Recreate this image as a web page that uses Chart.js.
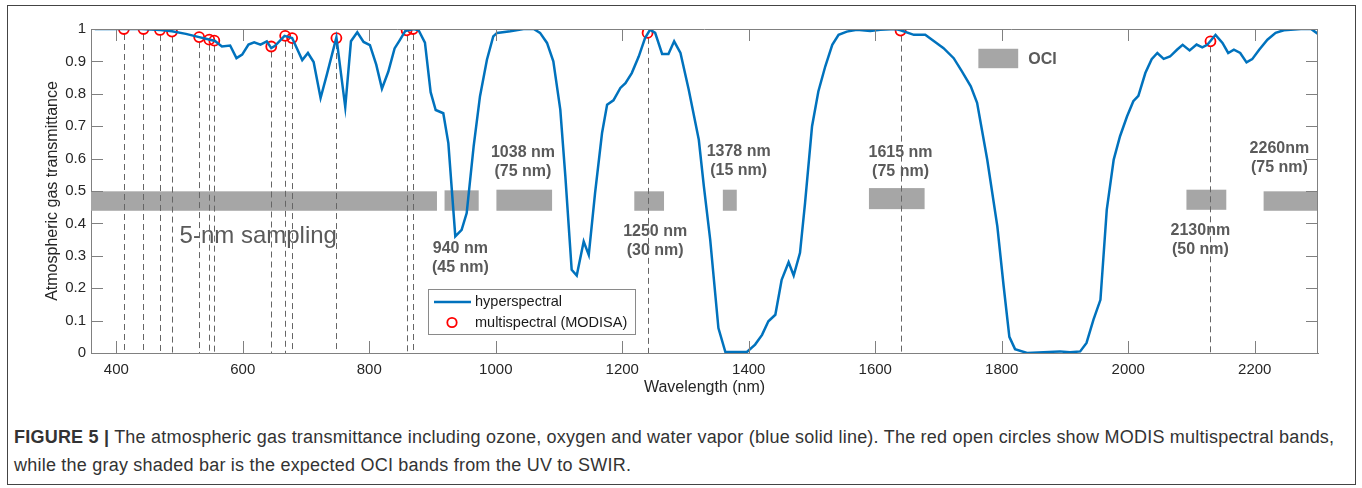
<!DOCTYPE html>
<html>
<head>
<meta charset="utf-8">
<script src="https://cdn.jsdelivr.net/npm/chart.js@4.4.1/dist/chart.umd.min.js"></script>
<style>
  html, body { margin: 0; padding: 0; background: #fff; }
  body { width: 1362px; height: 488px; position: relative; overflow: hidden; font-family: "Liberation Sans", Arial, sans-serif; }
  #frame { position: absolute; left: 7px; top: 5px; width: 1347px; height: 478px; border: 1px solid #444; }
  #wrap { position: absolute; left: 0; top: 0; width: 1362px; height: 400px; }
  #caption { position: absolute; left: 14px; top: 423px; width: 1345px; font-size: 18px; letter-spacing: 0.22px; line-height: 28px; color: #333; white-space: nowrap; }
</style>
</head>
<body>
<div id="frame"></div>
<div id="wrap"><canvas id="myChart" width="1362" height="400"></canvas></div>
<div id="caption"><b>FIGURE 5 |</b> The atmospheric gas transmittance including ozone, oxygen and water vapor (blue solid line). The red open circles show MODIS multispectral bands,<br>while the gray shaded bar is the expected OCI bands from the UV to SWIR.</div>
<script>
// hyperspectral transmittance curve
const wavelength = [366, 400, 440, 470, 488, 510, 531, 550, 556, 567, 580, 590, 599, 609, 618, 628, 638, 645, 651, 666, 678,
  694, 703, 712, 723, 733, 748, 762, 771, 781, 791, 801, 811, 820, 830, 840, 848, 857, 870, 878, 888, 897, 905, 917, 925,
  936, 946, 954, 965, 975, 986, 996, 1002, 1023, 1044, 1060, 1070, 1081, 1091, 1102, 1110, 1120, 1128, 1139, 1147, 1157,
  1168, 1176, 1186, 1197, 1205, 1215, 1226, 1236, 1244, 1252, 1263, 1273, 1282, 1292, 1305, 1321, 1329, 1339, 1352, 1363,
  1397, 1410, 1421, 1431, 1442, 1452, 1463, 1471, 1481, 1489, 1500, 1510, 1521, 1532, 1542, 1555, 1571, 1592, 1608, 1632,
  1640, 1661, 1679, 1693, 1708, 1724, 1737, 1751, 1761, 1777, 1793, 1803, 1812, 1821, 1840, 1892, 1908, 1924, 1934, 1945,
  1956, 1966, 1977, 1987, 1998, 2008, 2016, 2027, 2037, 2046, 2056, 2066, 2077, 2086, 2097, 2108, 2117, 2125, 2138, 2149,
  2158, 2167, 2177, 2187, 2196, 2207, 2220, 2233, 2246, 2273, 2289, 2300];
const transmittance = [1.000, 1.000, 1.000, 0.997, 0.993, 0.985, 0.975, 0.966, 0.963, 0.946, 0.949, 0.910, 0.921, 0.952,
  0.959, 0.952, 0.962, 0.941, 0.948, 0.979, 0.972, 0.904, 0.926, 0.898, 0.787, 0.860, 0.974, 0.759, 0.962, 0.990, 0.960,
  0.950, 0.890, 0.816, 0.868, 0.940, 0.965, 0.994, 1.000, 0.996, 0.958, 0.805, 0.750, 0.740, 0.648, 0.360, 0.380, 0.432,
  0.638, 0.792, 0.905, 0.977, 0.988, 0.993, 1.000, 1.000, 0.988, 0.957, 0.900, 0.751, 0.545, 0.257, 0.239, 0.344, 0.303,
  0.494, 0.679, 0.766, 0.780, 0.818, 0.833, 0.864, 0.915, 0.972, 0.998, 0.988, 0.923, 0.923, 0.962, 0.926, 0.813, 0.658,
  0.514, 0.350, 0.077, 0.003, 0.003, 0.026, 0.056, 0.098, 0.118, 0.226, 0.280, 0.239, 0.309, 0.463, 0.699, 0.807, 0.885,
  0.951, 0.982, 0.992, 0.998, 0.994, 0.998, 1.000, 0.996, 0.982, 0.982, 0.962, 0.941, 0.910, 0.869, 0.823, 0.772, 0.597,
  0.391, 0.206, 0.050, 0.012, 0.000, 0.005, 0.002, 0.005, 0.031, 0.103, 0.164, 0.442, 0.597, 0.669, 0.730, 0.777, 0.794,
  0.864, 0.907, 0.926, 0.908, 0.915, 0.936, 0.951, 0.934, 0.952, 0.943, 0.951, 0.982, 0.957, 0.926, 0.936, 0.926, 0.897,
  0.907, 0.936, 0.967, 0.988, 0.996, 1.000, 1.000, 0.985];

// MODIS (MODISA) bands
const modisBands = [412, 443, 469, 488, 531, 547, 555, 645, 667, 678, 748, 859, 869, 1240, 1640, 2130];
const modisValues = [1.000, 1.000, 0.997, 0.992, 0.975, 0.967, 0.964, 0.946, 0.979, 0.972, 0.972, 0.996, 1.000, 0.988, 0.995, 0.962];

// OCI bands (gray bars)
const ociStart = [360, 919, 1001, 1219, 1359, 1590, 2092, 2214];
const ociEnd = [907, 973, 1089, 1266, 1381, 1678, 2155, 2300];
const ociLow = [0.439, 0.439, 0.439, 0.439, 0.439, 0.444, 0.442, 0.439];
const ociHigh = [0.499, 0.502, 0.504, 0.499, 0.504, 0.509, 0.504, 0.499];

const xTicks = [400, 600, 800, 1000, 1200, 1400, 1600, 1800, 2000, 2200];
const xTickLabels = ['400', '600', '800', '1000', '1200', '1400', '1600', '1800', '2000', '2200'];
const yTicks = [0, 0.1, 0.2, 0.3, 0.4, 0.5, 0.6, 0.7, 0.8, 0.9, 1];
const yTickLabels = ['0', '0.1', '0.2', '0.3', '0.4', '0.5', '0.6', '0.7', '0.8', '0.9', '1'];

// band annotations
const bandNotes = [
    { lines: ['940 nm', '(45 nm)'], at: 944, y: 0.322 },
    { lines: ['1038 nm', '(75 nm)'], at: 1043, y: 0.619 },
    { lines: ['1250 nm', '(30 nm)'], at: 1252, y: 0.374 },
    { lines: ['1378 nm', '(15 nm)'], at: 1384, y: 0.621 },
    { lines: ['1615 nm', '(75 nm)'], at: 1640, y: 0.619 },
    { lines: ['2130nm', '(50 nm)'], at: 2114, y: 0.377 },
    { lines: ['2260nm', '(75 nm)'], at: 2239, y: 0.630 }
];

const FONT = '"Liberation Sans", Arial, sans-serif';
const blue = '#0072BD';
const axisColor = '#808080';
const ociColor = '#a6a6a6';
const noteColor = '#5a5a5a';

Chart.defaults.font.family = FONT;

const decor = {
    id: 'decor',
    beforeDatasetsDraw(chart) {
        const { ctx, scales: { x, y } } = chart;
        ctx.save();
        // OCI bars
        ctx.fillStyle = ociColor;
        ociStart.forEach((s, i) => {
            const x0 = x.getPixelForValue(s), x1 = x.getPixelForValue(ociEnd[i]);
            const y0 = y.getPixelForValue(ociHigh[i]), y1 = y.getPixelForValue(ociLow[i]);
            ctx.fillRect(x0, y0, x1 - x0, y1 - y0);
        });
        // OCI legend swatch
        const sx0 = x.getPixelForValue(1763), sx1 = x.getPixelForValue(1826);
        const sy0 = y.getPixelForValue(0.939), sy1 = y.getPixelForValue(0.879);
        ctx.fillRect(sx0, sy0, sx1 - sx0, sy1 - sy0);
        ctx.fillStyle = noteColor;
        ctx.font = 'bold 16px ' + FONT;
        ctx.textAlign = 'left';
        ctx.textBaseline = 'middle';
        ctx.fillText('OCI', x.getPixelForValue(1842), y.getPixelForValue(0.905));

        // band notes
        ctx.textAlign = 'center';
        bandNotes.forEach(n => {
            const px = x.getPixelForValue(n.at), py = y.getPixelForValue(n.y);
            ctx.fillText(n.lines[0], px, py);
            ctx.fillText(n.lines[1], px, py + 19);
        });
        ctx.font = '24px ' + FONT;
        ctx.textAlign = 'left';
        ctx.fillText('5-nm sampling', x.getPixelForValue(500), y.getPixelForValue(0.36));

        // dashed verticals at MODIS bands
        ctx.strokeStyle = '#666';
        ctx.lineWidth = 1;
        ctx.setLineDash([6, 4]);
        modisBands.forEach((b, i) => {
            const px = Math.round(x.getPixelForValue(b)) + 0.5;
            ctx.beginPath();
            ctx.moveTo(px, y.getPixelForValue(modisValues[i]) + 5);
            ctx.lineTo(px, y.getPixelForValue(0));
            ctx.stroke();
        });
        ctx.restore();
    },
    afterDraw(chart) {
        const { ctx, chartArea: a, scales: { x, y } } = chart;
        ctx.save();
        ctx.strokeStyle = axisColor;
        ctx.lineWidth = 1;
        ctx.beginPath();
        ctx.moveTo(a.left, a.top + 0.5); ctx.lineTo(a.right, a.top + 0.5);
        ctx.moveTo(a.right - 0.5, a.top); ctx.lineTo(a.right - 0.5, a.bottom);
        // inward ticks
        xTicks.forEach(v => {
            const px = Math.round(x.getPixelForValue(v)) + 0.5;
            ctx.moveTo(px, a.bottom); ctx.lineTo(px, a.bottom - 12);
            ctx.moveTo(px, a.top); ctx.lineTo(px, a.top + 12);
        });
        yTicks.forEach(v => {
            const py = Math.round(y.getPixelForValue(v)) + 0.5;
            ctx.moveTo(a.left, py); ctx.lineTo(a.left + 12, py);
            ctx.moveTo(a.right, py); ctx.lineTo(a.right - 12, py);
        });
        ctx.stroke();

        // legend box
        const lx = a.left + 337, ly = a.top + 260;
        ctx.fillStyle = '#fff';
        ctx.fillRect(lx, ly, 207, 45);
        ctx.strokeStyle = '#8a8a8a';
        ctx.strokeRect(lx + 0.5, ly + 0.5, 207, 45);
        ctx.strokeStyle = blue;
        ctx.lineWidth = 2.5;
        ctx.beginPath();
        ctx.moveTo(lx + 6, ly + 13); ctx.lineTo(lx + 43, ly + 13);
        ctx.stroke();
        ctx.strokeStyle = '#ff0000';
        ctx.lineWidth = 1.8;
        ctx.beginPath();
        ctx.arc(lx + 24, ly + 33.5, 4.7, 0, Math.PI * 2);
        ctx.stroke();
        ctx.fillStyle = '#1a1a1a';
        ctx.font = '14.5px ' + FONT;
        ctx.textAlign = 'left';
        ctx.textBaseline = 'middle';
        ctx.fillText('hyperspectral', lx + 47, ly + 13);
        ctx.fillText('multispectral (MODISA)', lx + 47, ly + 33.5);
        ctx.restore();
    }
};

const ctx = document.getElementById('myChart');
new Chart(ctx, {
    type: 'line',
    data: {
        datasets: [{
            label: 'hyperspectral',
            data: wavelength.map((w, i) => ({ x: w, y: transmittance[i] })),
            borderColor: blue,
            borderWidth: 2.5,
            pointRadius: 0,
            tension: 0,
            fill: false
        }, {
            label: 'multispectral (MODISA)',
            data: modisBands.map((w, i) => ({ x: w, y: modisValues[i] })),
            showLine: false,
            pointStyle: 'circle',
            pointRadius: 5,
            borderColor: '#ff0000',
            borderWidth: 1.8,
            backgroundColor: 'rgba(0,0,0,0)'
        }]
    },
    options: {
        responsive: false,
        devicePixelRatio: 1,
        animation: false,
        layout: { padding: { left: 0, right: 44, top: 29, bottom: 0 } },
        plugins: { legend: { display: false }, tooltip: { enabled: false } },
        scales: {
            x: {
                type: 'linear',
                min: 360,
                max: 2300,
                afterBuildTicks: s => { s.ticks = xTicks.map(v => ({ value: v })); },
                afterFit: s => { s.height = 47; },
                grid: { display: false, drawTicks: false },
                border: { display: true, color: axisColor, width: 1 },
                ticks: { padding: 8, color: '#262626', font: { size: 15 }, maxRotation: 0, autoSkip: false, callback: (v, i) => xTickLabels[i] },
                title: { display: true, text: 'Wavelength (nm)', color: '#262626', font: { size: 16 }, padding: { top: 0, bottom: 3 } }
            },
            y: {
                min: 0,
                max: 1,
                afterBuildTicks: s => { s.ticks = yTicks.map(v => ({ value: v })); },
                afterFit: s => { s.width = 91; },
                grid: { display: false, drawTicks: false },
                border: { display: true, color: axisColor, width: 1 },
                ticks: { padding: 5, color: '#262626', font: { size: 15 }, callback: (v, i) => yTickLabels[i] },
                title: { display: true, text: 'Atmospheric gas transmittance', color: '#262626', font: { size: 16 }, padding: { top: 43, bottom: 0 } }
            }
        }
    },
    plugins: [decor]
});
</script>
</body>
</html>
